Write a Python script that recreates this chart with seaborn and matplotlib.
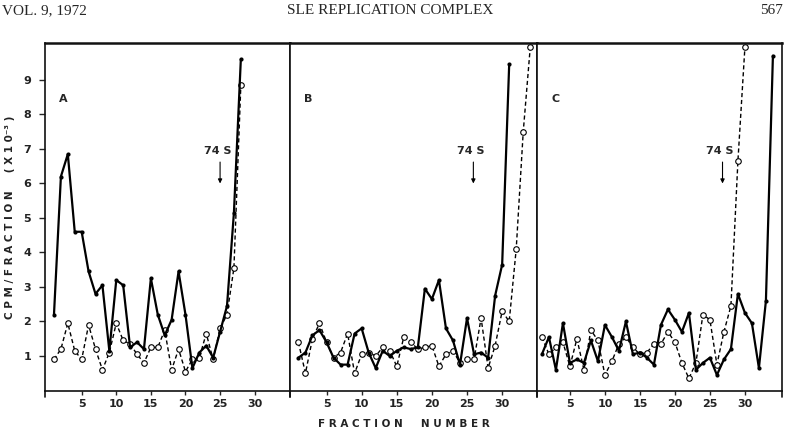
import seaborn as sns
import matplotlib.pyplot as plt
import pandas as pd

# values (cpm / fraction, x10^-3)
a_solid = [2.2, 6.2, 6.85, 4.6, 4.6, 3.45, 2.8, 3.05, 1.15, 3.2, 3.05, 1.25, 1.4, 1.2,
           3.25, 2.2, 1.6, 2.05, 3.45, 2.2, 0.65, 1.1, 1.3, 0.95, 1.7, 2.45, 5.15, 9.6]
a_open = [0.9, 1.2, 1.95, 1.15, 0.9, 1.9, 1.2, 0.6, 1.1, 1.95, 1.45, 1.35, 1.05, 0.8,
          1.25, 1.25, 1.75, 0.6, 1.2, 0.55, 0.9, 0.95, 1.65, 0.9, 1.8, 2.2, 3.55, 8.85]

b_solid = [0.95, 1.1, 1.6, 1.75, 1.4, 0.95, 0.75, 0.75, 1.65, 1.8, 1.1, 0.65, 1.15, 1.0,
           1.15, 1.25, 1.2, 1.25, 2.95, 2.65, 3.2, 1.8, 1.45, 0.75, 2.1, 1.05, 1.1, 0.95,
           2.75, 3.65, 9.45]
b_open = [1.4, 0.5, 1.5, 1.95, 1.4, 0.95, 1.1, 1.65, 0.5, 1.05, 1.1, 1.0, 1.25, 1.15,
          0.7, 1.55, 1.4, 1.2, 1.25, 1.3, 0.7, 1.05, 1.15, 0.8, 0.9, 0.9, 2.1, 0.65,
          1.3, 2.3, 2.0, 4.1, 7.5, 9.95]

c_solid = [1.05, 1.55, 0.6, 1.95, 0.8, 0.9, 0.8, 1.45, 0.85, 1.9, 1.55, 1.15, 2.0, 1.05,
           1.1, 0.95, 0.75, 1.9, 2.35, 2.05, 1.7, 2.25, 0.6, 0.8, 0.95, 0.45, 0.9, 1.2,
           2.8, 2.25, 1.95, 0.65, 2.6, 9.7]
c_open = [1.55, 1.05, 1.25, 1.4, 0.7, 1.5, 0.6, 1.75, 1.45, 0.45, 0.85, 1.35, 1.55, 1.25,
          1.05, 1.1, 1.35, 1.35, 1.7, 1.4, 0.8, 0.35, 0.8, 2.2, 2.05, 0.75, 1.7, 2.45,
          6.65, 9.95]

panel_labels = ["A", "B", "C"]
marker_74s = [25.0, 25.9, 26.8]   # fraction where the 74 S arrow points
x_ticks = [5, 10, 15, 20, 25, 30]
y_ticks = [1, 2, 3, 4, 5, 6, 7, 8, 9]

sns.set_style("ticks")
plt.rcParams["font.family"] = ["DejaVu Sans"]

fig = plt.figure(figsize=(7.85, 4.34), dpi=100)
boxes = [[0.0573, 0.1002, 0.3121, 0.8007],
         [0.3694, 0.1002, 0.3146, 0.8007],
         [0.6841, 0.1002, 0.3121, 0.8007]]
xlims = [(-0.3, 35.1), (-0.2, 34.95), (0.3, 35.3)]
series = [(a_solid, a_open), (b_solid, b_open), (c_solid, c_open)]

for i, (solid, opn) in enumerate(series):
    ax = fig.add_axes(boxes[i])
    d1 = pd.DataFrame({"fraction": range(1, len(solid) + 1), "cpm": solid})
    d2 = pd.DataFrame({"fraction": range(1, len(opn) + 1), "cpm": opn})
    sns.lineplot(data=d2, x="fraction", y="cpm", ax=ax, color="black", lw=1.0,
                 linestyle=(0, (3, 2)), marker="o", markersize=4,
                 markerfacecolor="white", markeredgecolor="black", markeredgewidth=0.8)
    sns.lineplot(data=d1, x="fraction", y="cpm", ax=ax, color="black", lw=1.6,
                 marker="o", markersize=3, markeredgewidth=0)
    ax.set_xlim(*xlims[i])
    ax.set_ylim(0, 10.07)
    ax.set_xticks(x_ticks)
    ax.set_xticklabels([str(t) for t in x_ticks], fontsize=8, fontweight="bold", color="#222222")
    ax.tick_params(axis="x", length=3, width=1, pad=3)
    if i == 0:
        ax.set_yticks(y_ticks)
        ax.set_yticklabels([str(t) for t in y_ticks], fontsize=8, fontweight="bold", color="#222222")
        ax.tick_params(axis="y", length=4, width=1, pad=6)
    else:
        ax.set_yticks([])
    ax.set_xlabel("")
    ax.set_ylabel("")
    for sp in ax.spines.values():
        sp.set_visible(True)
        sp.set_linewidth(1.2)
        sp.set_color("#111111")
    ax.spines["top"].set_linewidth(1.8)
    # panel borders run a little below the axis line
    ax.plot([1, 1], [0, -0.018], transform=ax.transAxes, clip_on=False, color="#111111", lw=1.2)
    ax.plot([0, 0], [0, -0.018], transform=ax.transAxes, clip_on=False, color="#111111", lw=1.2)

    ax.text(0.075, 0.84, panel_labels[i], transform=ax.transAxes, fontsize=8,
            fontweight="bold", ha="center", va="center")
    xm = marker_74s[i]
    ax.text(xm - 0.4, 6.95, "74 S", fontsize=8, fontweight="bold", ha="center", va="center")
    ax.annotate("", xy=(xm, 6.0), xytext=(xm, 6.62),
                arrowprops=dict(arrowstyle="-|>", lw=0.8, color="black",
                                mutation_scale=6, shrinkA=0, shrinkB=0))

fig.text(0.514, 0.012, "F R A C T I O N     N U M B E R", ha="center", va="bottom",
         fontsize=7.5, fontweight="bold", color="#222222")
fig.text(0.013, 0.5, "C P M / F R A C T I O N     ( X 1 0⁻³ )", rotation=90,
         ha="center", va="center", fontsize=7.5, fontweight="bold", color="#222222")

# running header of the journal page
fig.text(0.002, 0.975, "VOL. 9, 1972", ha="left", va="center", fontsize=11,
         family=["Liberation Serif", "DejaVu Serif"])
fig.text(0.497, 0.975, "SLE REPLICATION COMPLEX", ha="center", va="center", fontsize=11,
         family=["Liberation Serif", "DejaVu Serif"])
fig.text(0.997, 0.975, "567", ha="right", va="center", fontsize=11,
         family=["Liberation Serif", "DejaVu Serif"])

fig.savefig("out.png", dpi=100, facecolor="white")
